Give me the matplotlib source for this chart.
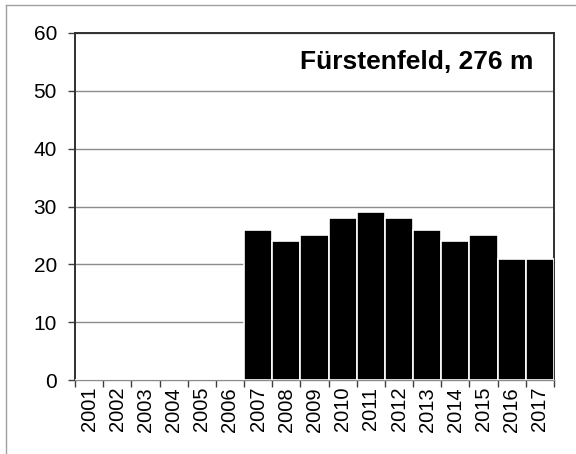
import matplotlib
matplotlib.use("Agg")
import matplotlib.pyplot as plt
from matplotlib.lines import Line2D

years = [str(y) for y in range(2001, 2018)]
values = [0, 0, 0, 0, 0, 0, 26, 24, 25, 28, 29, 28, 26, 24, 25, 21, 21]
title = "Fürstenfeld, 276 m"

plt.rcParams['font.family'] = ['Liberation Sans', 'DejaVu Sans']

fig = plt.figure(figsize=(5.76, 4.54), dpi=100)
ax = fig.add_axes([75 / 576, 1 - 380 / 454, (554 - 75) / 576, (380 - 33) / 454])

x = list(range(len(years)))
ax.bar(x, values, width=1.0, color="black", edgecolor="white", linewidth=1.2, zorder=3)

ax.set_xlim(-0.5, len(years) - 0.5)
ax.set_ylim(0, 60)
ax.set_yticks(range(0, 61, 10))
ax.yaxis.grid(True, color="#8c8c8c", linewidth=1.0, zorder=0)

ax.set_xticks(x)
ax.set_xticklabels(years, rotation=90, fontsize=14.5)
ax.tick_params(axis="x", length=0, pad=5)
ax.set_xticks([i - 0.5 for i in range(len(years) + 1)], minor=True)
ax.tick_params(axis="x", which="minor", length=5, width=1, color="#404040", direction="out")
ax.tick_params(axis="y", labelsize=15, length=5, width=1, color="#404040", pad=8)

for s in ax.spines.values():
    s.set_color("#303030")
    s.set_linewidth(1.4)
ax.spines["bottom"].set_color("#8c8c8c")
ax.spines["bottom"].set_linewidth(1.0)

ax.text(0.957, 0.915, title, transform=ax.transAxes, ha="right", va="center",
        fontsize=19, fontweight="bold")

# light frame around the figure
fig.add_artist(Line2D([6 / 576, 6 / 576], [0, 1 - 5 / 454], transform=fig.transFigure,
                      color="#a0a0a0", linewidth=1))
fig.add_artist(Line2D([6 / 576, 1], [1 - 5 / 454, 1 - 5 / 454], transform=fig.transFigure,
                      color="#a0a0a0", linewidth=1))

fig.savefig("out.png", dpi=100)
